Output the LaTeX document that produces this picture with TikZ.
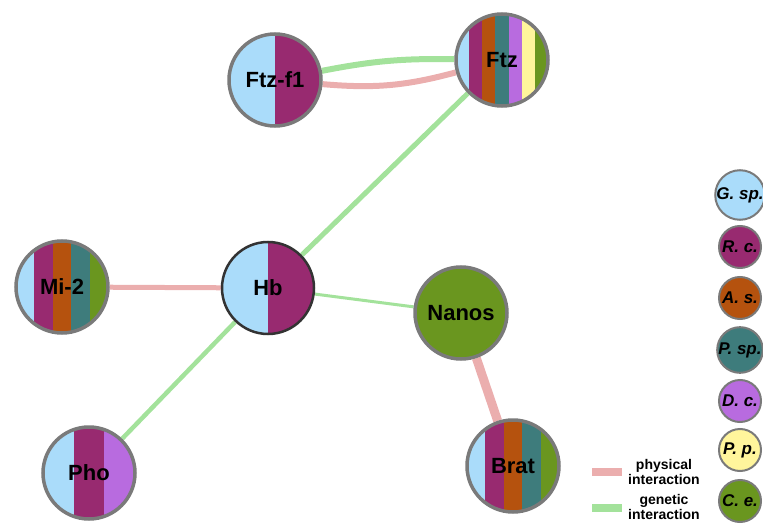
\documentclass[tikz,border=0pt]{standalone}
\usepackage{fontspec}
\setmainfont{Liberation Sans}
\usetikzlibrary{calc}

% species colours
\definecolor{gsp}{HTML}{AADCFA}
\definecolor{rc}{HTML}{982A70}
\definecolor{as}{HTML}{B5520E}
\definecolor{psp}{HTML}{3E7C7C}
\definecolor{dc}{HTML}{B86BDF}
\definecolor{pp}{HTML}{FFF59C}
\definecolor{ce}{HTML}{6A961F}
% edge and border colours
\definecolor{physedge}{HTML}{EBAEAE}
\definecolor{genedge}{HTML}{A3E29B}
\definecolor{rimgray}{HTML}{7A7A7A}
\definecolor{rimdark}{HTML}{333333}

\pgfdeclarelayer{background}
\pgfsetlayers{background,main}

\newcommand\noderad{46}
% vertical colour bands clipped to a disc: #1 centre, #2 number of bands, #3 colour list
\newcommand\bandeddisc[3]{%
  \begin{scope}
    \clip (#1) circle (\noderad pt);
    \foreach \c [count=\i] in {#3}{%
      \fill[\c] ($(#1)+({-\noderad+(\i-1)*2*\noderad/#2},-\noderad)$)
        rectangle ($(#1)+({-\noderad+\i*2*\noderad/#2},\noderad)$);
    }
  \end{scope}
}

\tikzset{
  gene/.style={circle, minimum size=92pt, inner sep=0pt, draw=rimgray,
    line width=3.5pt, font=\bfseries\fontsize{22}{25}\selectfont},
  hub/.style={gene, draw=rimdark, line width=2.5pt},
  species/.style={circle, minimum size=42pt, inner sep=0pt, draw=rimgray,
    line width=2pt, font=\bfseries\itshape\fontsize{17}{20}\selectfont},
  phys/.style={draw=physedge},
  genet/.style={draw=genedge},
  keytext/.style={align=center, font=\bfseries\fontsize{14}{15}\selectfont}
}

\begin{document}
\begin{tikzpicture}[x=1pt, y=-1pt]
\useasboundingbox (0,0) rectangle (763,524);

% banded gene discs
\bandeddisc{275,80}{2}{gsp,rc}
\bandeddisc{502,60}{7}{gsp,rc,as,psp,dc,pp,ce}
\bandeddisc{62,287}{5}{gsp,rc,as,psp,ce}
\bandeddisc{268,288}{2}{gsp,rc}
\bandeddisc{513,466}{5}{gsp,rc,as,psp,ce}
\bandeddisc{89,473}{3}{gsp,rc,dc}

% gene nodes
\node[gene] (ftzf1) at (275,80) {Ftz-f1};
\node[gene] (ftz) at (502,60) {Ftz};
\node[gene] (mi2) at (62,287) {Mi-2};
\node[hub] (hb) at (268,288) {Hb};
\node[gene, fill=ce] (nanos) at (461,313) {Nanos};
\node[gene] (brat) at (513,466) {Brat};
\node[gene] (pho) at (89,473) {Pho};

% interactions
\begin{pgfonlayer}{background}
  \draw[genet, line width=6pt] (ftzf1) to[bend left=6] (ftz);
  \draw[phys, line width=6pt] (ftzf1) to[bend right=10] (ftz);
  \draw[genet, line width=5pt] (ftz) -- (hb);
  \draw[phys, line width=5pt] (mi2) -- (hb);
  \draw[genet, line width=3pt] (hb) -- (nanos);
  \draw[genet, line width=4.5pt] (hb) -- (pho);
  \draw[phys, line width=9pt] (nanos) -- (brat);
\end{pgfonlayer}

% species key
\node[species, fill=gsp] (kgsp) at (740,195) {G. sp.};
\node[species, fill=rc] (krc) at (740,247) {R. c.};
\node[species, fill=as] (kas) at (740,298) {A. s.};
\node[species, fill=psp] (kpsp) at (740,350) {P. sp.};
\node[species, fill=dc] (kdc) at (740,401) {D. c.};
\node[species, fill=pp] (kpp) at (740,450) {P. p.};
\node[species, fill=ce] (kce) at (740,501) {C. e.};

% interaction key
\coordinate (pa) at (592,472);
\coordinate (pb) at (622,472);
\coordinate (ga) at (592,508);
\coordinate (gb) at (622,508);
\draw[phys, line width=8pt] (pa) -- (pb);
\draw[genet, line width=8pt] (ga) -- (gb);
\node[keytext] (kphys) at (664,472) {physical\\interaction};
\node[keytext] (kgen) at (664,507) {genetic\\interaction};
\end{tikzpicture}
\end{document}
